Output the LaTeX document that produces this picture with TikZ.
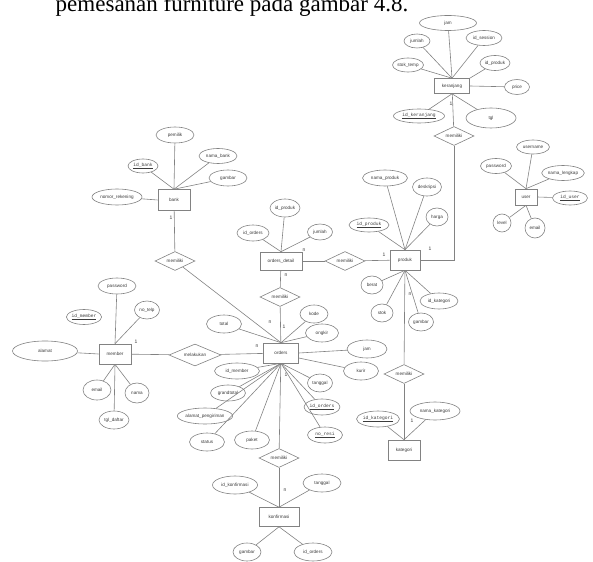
\documentclass[tikz,border=0pt]{standalone}
\usepackage{fontspec}
\setmainfont{Liberation Serif}
\setsansfont{Liberation Sans}
\setmonofont{Liberation Mono}
\usetikzlibrary{positioning}
\usetikzlibrary{shapes.geometric}
\definecolor{garis}{RGB}{130,130,130}
\definecolor{teks}{RGB}{60,60,60}
\tikzset{
a/.style={
  ellipse,
  inner sep=0pt,
  minimum width=#1,
  minimum height=16pt,
  draw=garis,
  fill=white,
  text=teks,
  font=\sffamily\fontsize{4.6}{5}\selectfont
  },
a/.default=30pt,
k/.style={
  a=#1,
  font=\ttfamily\fontsize{4.6}{5}\selectfont
  },
e/.style={
  rectangle,
  inner sep=0pt,
  minimum width=#1,
  minimum height=20pt,
  draw=garis,
  fill=white,
  text=teks,
  font=\sffamily\fontsize{4.6}{5}\selectfont
  },
r/.style={
  diamond,
  aspect=2,
  inner sep=0pt,
  minimum width=#1,
  minimum height=19pt,
  draw=garis,
  fill=white,
  text=teks,
  font=\sffamily\fontsize{4.6}{5}\selectfont
  },
r/.default=40pt,
l/.style={
  inner sep=0pt,
  text=teks,
  font=\sffamily\fontsize{5}{5}\selectfont
  }
}

\begin{document}
\begin{tikzpicture}[x=1pt,y=-1pt,semithick,draw=garis]
  \clip (0,0) rectangle (593,561);
  \node[anchor=base,inner sep=0pt,font=\fontsize{23}{23}\selectfont] (judul) at (232,12) {pemesanan furniture pada gambar 4.8.};

  % entitas
  \node[e=35pt,minimum height=15pt] (keranjang) at (452,86) {keranjang};
  \node[e=22pt,minimum height=16pt] (user) at (526,197) {user};
  \node[e=30pt] (produk) at (405,260) {produk};
  \node[e=32pt] (kategori) at (404,450) {kategori};
  \node[e=42pt,minimum height=18pt] (detail) at (281,261) {orders\_detail};
  \node[e=35pt] (orders) at (281,353) {orders};
  \node[e=40pt,minimum height=19pt] (konfirmasi) at (279,517) {konfirmasi};
  \node[e=32pt,minimum height=21pt] (bank) at (174,200) {bank};
  \node[e=32pt] (member) at (115,354) {member};

  % relasi
  \node[r] (rkeranjang) at (454,136) {memiliki};
  \node[r] (rdetail) at (345,261) {memiliki};
  \node[r] (rkategori) at (404,374) {memiliki};
  \node[r] (rorders) at (280,297) {memiliki};
  \node[r] (rbank) at (175,261) {memiliki};
  \node[r=52pt,minimum height=22pt] (rmember) at (195,355) {melakukan};
  \node[r] (rkonfirmasi) at (279,458) {memiliki};

  % atribut keranjang
  \node[a=57pt,minimum height=15pt] (kjam) at (448,23) {jam};
  \node[a=26pt,minimum height=14pt] (kjumlah) at (417,41) {jumlah};
  \node[a=36pt,minimum height=15pt] (ksession) at (484,38) {id\_session};
  \node[a=31pt,minimum height=14pt] (kstok) at (408,65) {stok\_temp};
  \node[a=30pt,minimum height=15pt] (kproduk) at (495,63) {id\_produk};
  \node[a=25pt,minimum height=15pt] (kprice) at (517,87) {price};
  \node[k=51pt,minimum height=14pt] (kid) at (419,116) {\underline{id\_keranjang}};
  \node[a=50pt,minimum height=20pt] (ktgl) at (491,118) {tgl};

  % atribut user
  \node[a=33pt,minimum height=14pt] (uname) at (533,147) {username};
  \node[a=31pt,minimum height=15pt] (upass) at (496,166) {password};
  \node[a=42pt,minimum height=15pt] (ulengkap) at (563,173) {nama\_lengkap};
  \node[k=35pt,minimum height=14pt] (uid) at (570,198) {\underline{id\_user}};
  \node[a=18pt,minimum height=18pt] (ulevel) at (502,223) {level};
  \node[a=20pt,minimum height=20pt] (uemail) at (535,228) {email};

  % atribut produk
  \node[a=45pt] (pnama) at (385,178) {nama\_produk};
  \node[a=29pt,minimum height=18pt] (pdesk) at (427,187) {deskripsi};
  \node[a=22pt,minimum height=18pt] (pharga) at (437,217) {harga};
  \node[k=40pt,minimum height=14pt] (pid) at (369,225) {\underline{id\_produk}};
  \node[a=22pt,minimum height=18pt] (pberat) at (372,285) {berat};
  \node[a=22pt,minimum height=18pt] (pstok) at (382,313) {stok};
  \node[a=25pt,minimum height=18pt] (pgambar) at (421,322) {gambar};
  \node[a=38pt] (pkat) at (439,301) {id\_kategori};

  % atribut kategori
  \node[k=42pt] (tid) at (378,419) {\underline{id\_kategori}};
  \node[a=50pt,minimum height=18pt] (tnama) at (435,411) {nama\_kategori};

  % atribut orders_detail
  \node[a=30pt,minimum height=18pt] (dproduk) at (285,208) {id\_produk};
  \node[a=32pt] (dorders) at (253,233) {id\_orders};
  \node[a=25pt] (djumlah) at (320,232) {jumlah};

  % atribut bank
  \node[a=38pt] (bpemilik) at (175,135) {pemilik};
  \node[a=38pt,minimum height=15pt] (bnama) at (218,156) {nama\_bank};
  \node[k=30pt,minimum height=14pt] (bid) at (143,166) {\underline{id\_bank}};
  \node[a=38pt] (bgambar) at (228,178) {gambar};
  \node[a=50pt] (brek) at (117,197) {nomor\_rekening};

  % atribut member
  \node[a=38pt] (mpass) at (117,286) {password};
  \node[k=35pt,minimum height=15pt] (mid) at (84,317) {\underline{id\_member}};
  \node[a=25pt,minimum height=18pt] (mtelp) at (147,310) {no\_telp};
  \node[a=65pt,minimum height=20pt] (malamat) at (45,351) {alamat};
  \node[a=28pt,minimum height=20pt] (memail) at (97,390) {email};
  \node[a=24pt,minimum height=20pt] (mnama) at (137,393) {nama};
  \node[a=30pt,minimum height=18pt] (mtgl) at (114,420) {tgl\_daftar};

  % atribut orders
  \node[a=35pt,minimum height=18pt] (ototal) at (224,324) {total};
  \node[a=28pt,minimum height=18pt] (okode) at (314,314) {kode};
  \node[a=33pt,minimum height=18pt] (oongkir) at (322,333) {ongkir};
  \node[a=40pt,minimum height=18pt] (ojam) at (367,349) {jam};
  \node[a=35pt,minimum height=18pt] (okurir) at (361,371) {kurir};
  \node[a=25pt,minimum height=18pt] (otanggal) at (320,383) {tanggal};
  \node[k=36pt] (oid) at (322,407) {\underline{id\_orders}};
  \node[k=35pt] (oresi) at (325,435) {\underline{no\_resi}};
  \node[a=45pt] (omember) at (237,371) {id\_member};
  \node[a=35pt] (ogrand) at (228,393) {grandtotal};
  \node[a=55pt] (oalamat) at (205,416) {alamat\_pengiriman};
  \node[a=35pt,minimum height=18pt] (ostatus) at (207,442) {status};
  \node[a=35pt,minimum height=18pt] (opaket) at (252,440) {paket};

  % atribut konfirmasi
  \node[a=45pt,minimum height=18pt] (fid) at (235,485) {id\_konfirmasi};
  \node[a=38pt,minimum height=18pt] (ftanggal) at (322,483) {tanggal};
  \node[a=28pt,minimum height=18pt] (fgambar) at (247,552) {gambar};
  \node[a=38pt,minimum height=18pt] (forders) at (313,552) {id\_orders};

  % kardinalitas
  \node[l] (c1) at (451,104) {1};
  \node[l] (c2) at (430,249) {1};
  \node[l] (c3) at (384,255) {1};
  \node[l] (c4) at (410,294) {n};
  \node[l] (c5) at (304,250) {n};
  \node[l] (c6) at (286,275) {n};
  \node[l] (c7) at (412,421) {1};
  \node[l] (c8) at (270,322) {n};
  \node[l] (c9) at (284,327) {1};
  \node[l] (c10) at (257,346) {n};
  \node[l] (c11) at (286,375) {1};
  \node[l] (c12) at (285,490) {n};
  \node[l] (c13) at (171,218) {1};
  \node[l] (c14) at (136,342) {1};

  \path
  (kjam) edge (keranjang.north)
  (kjumlah) edge (keranjang.north)
  (ksession) edge (keranjang.north)
  (kstok) edge (keranjang.north)
  (kproduk) edge (keranjang.north east)
  (kprice) edge (keranjang.east)
  (kid) edge (keranjang.south)
  (ktgl) edge (keranjang.south)
  (keranjang) edge (rkeranjang)
  (uname) edge (user.north)
  (upass) edge (user.north)
  (ulengkap) edge (user.north)
  (uid) edge (user.east)
  (ulevel) edge (user.south)
  (uemail) edge (user.south)
  (pnama) edge (produk.north)
  (pdesk) edge (produk.north)
  (pharga) edge (produk.north)
  (pid) edge (produk.north)
  (pberat) edge (produk.south)
  (pstok) edge (produk.south)
  (pgambar) edge (produk.south)
  (pkat) edge (produk.south)
  (produk) edge (rkategori)
  (rkategori) edge (kategori)
  (tid) edge (kategori.north)
  (tnama) edge (kategori.north)
  (dproduk) edge (detail.north)
  (dorders) edge (detail.north)
  (djumlah) edge (detail.north)
  (detail) edge (rdetail)
  (rdetail) edge (produk)
  (detail) edge (rorders)
  (rorders) edge (orders)
  (bpemilik) edge (bank.north)
  (bnama) edge (bank.north)
  (bid) edge (bank.north)
  (bgambar) edge (bank.north)
  (brek) edge (bank.west)
  (bank) edge (rbank)
  (rbank) edge (orders.north)
  (mpass) edge (member.north)
  (mtelp) edge (member.north)
  (malamat) edge (member.west)
  (memail) edge (member.south)
  (mnama) edge (member.south)
  (mtgl) edge (member.south)
  (member) edge (rmember)
  (rmember) edge (orders)
  (ototal) edge (orders.north)
  (okode) edge (orders.north)
  (oongkir) edge (orders.north)
  (ojam) edge (orders.east)
  (okurir) edge ([yshift=-5pt]orders.east)
  (otanggal) edge (orders.south)
  (oid) edge (orders.south)
  (oresi) edge (orders.south)
  (omember) edge (orders.south)
  (ogrand) edge (orders.south)
  (oalamat) edge (orders.south)
  (ostatus) edge (orders.south)
  (opaket) edge (orders.south)
  (orders) edge (rkonfirmasi)
  (rkonfirmasi) edge (konfirmasi)
  (fid) edge (konfirmasi.north)
  (ftanggal) edge (konfirmasi.north)
  (fgambar) edge (konfirmasi.south)
  (forders) edge (konfirmasi.south)
  ;
  \draw (rkeranjang) |- (produk.east);
\end{tikzpicture}
\end{document}
